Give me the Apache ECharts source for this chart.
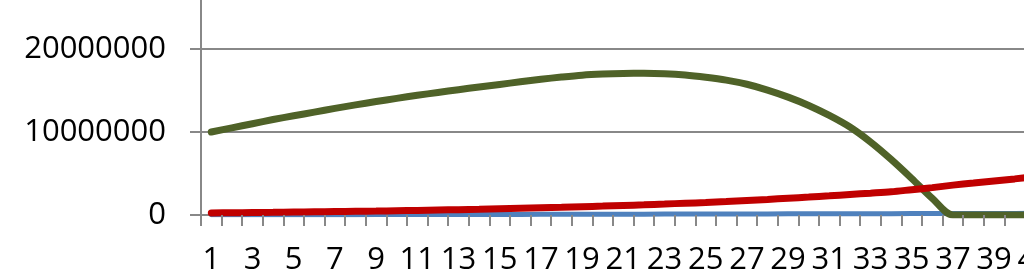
<!DOCTYPE html>
<html>
<head>
<meta charset="utf-8">
<script src="https://cdn.jsdelivr.net/npm/echarts@6/dist/echarts.min.js"></script>
<style>
  html, body { margin: 0; padding: 0; background: #fff; overflow: hidden; width: 1024px; height: 278px; }
  #wrap { position: absolute; left: 0; top: -34px; width: 1200px; height: 312px; }
  #chart { width: 1200px; height: 312px; }
</style>
</head>
<body>
<div id="wrap"><div id="chart"></div></div>
<script>
const categories = [];
for (let i = 1; i <= 44; i++) categories.push(String(i));

const blueValues = [
  20000, 23000, 26000, 29000, 32000, 35000, 38000, 42000, 46000, 50000,
  54000, 58000, 62000, 66000, 70000, 75000, 80000, 85000, 90000, 95000,
  100000, 105000, 110000, 115000, 120000, 125000, 130000, 135000, 140000, 145000,
  150000, 155000, 160000, 165000, 170000, 175000, 180000, 185000, 190000, 195000,
  200000, 205000, 210000, 215000
];

const greenValues = [
  10000000, 10500000, 11000000, 11500000, 11950000, 12400000, 12850000, 13270000, 13670000, 14050000,
  14420000, 14770000, 15100000, 15420000, 15730000, 16050000, 16350000, 16620000, 16850000, 16980000,
  17050000, 17070000, 17020000, 16870000, 16600000, 16250000, 15750000, 15050000, 14200000, 13200000,
  12000000, 10600000, 8800000, 6700000, 4400000, 2000000, 0, 0, 0, 0,
  0, 0, 0, 0
];

const redValues = [
  250000, 270000, 300000, 320000, 350000, 380000, 410000, 440000, 470000, 510000,
  550000, 600000, 640000, 690000, 750000, 810000, 870000, 930000, 1000000, 1070000,
  1150000, 1230000, 1320000, 1420000, 1500000, 1620000, 1750000, 1880000, 2020000, 2160000,
  2310000, 2470000, 2630000, 2800000, 3050000, 3300000, 3600000, 3850000, 4100000, 4350000,
  4620000, 4900000, 5200000, 5500000
];

const yMin = 0, yMax = 30000000, yInterval = 10000000;

const chart = echarts.init(document.getElementById('chart'), null, { renderer: 'canvas' });
const font = '"Open Sans", "Noto Sans", sans-serif';
const gray = '#888888';

chart.setOption({
  animation: false,
  backgroundColor: '#ffffff',
  grid: { left: 201, right: 92.6, top: 0, bottom: 63, containLabel: false, outerBoundsMode: 'none' },
  xAxis: {
    type: 'category',
    data: categories,
    boundaryGap: true,
    axisLine: { show: false },
    axisTick: { show: true, interval: 0, length: 11, lineStyle: { color: gray, width: 2 } },
    axisLabel: { interval: 1, margin: 30, color: '#000', fontSize: 31, fontFamily: font, hideOverlap: false },
    splitLine: { show: false },
    z: 3
  },
  yAxis: {
    type: 'value',
    min: yMin, max: yMax, interval: yInterval,
    axisLine: { show: true, lineStyle: { color: gray, width: 2 } },
    axisTick: { show: true, length: 11, lineStyle: { color: gray, width: 2 } },
    axisLabel: { margin: 35, color: '#000', fontSize: 31, fontFamily: font, formatter: function (v) { return String(v); } },
    splitLine: { show: true, lineStyle: { color: gray, width: 2 } }
  },
  series: [
    {
      type: 'line', data: blueValues, showSymbol: false, symbol: 'none',
      lineStyle: { color: '#4F81BD', width: 5, cap: 'round' }, itemStyle: { color: '#4F81BD' }, z: 2
    },
    {
      type: 'line', data: greenValues, showSymbol: false, symbol: 'none', smooth: 0.3,
      lineStyle: { color: '#4F6228', width: 7, cap: 'round', join: 'round' }, itemStyle: { color: '#4F6228' }, z: 2
    },
    {
      type: 'line', data: redValues, showSymbol: false, symbol: 'none', smooth: 0.3,
      lineStyle: { color: '#C00000', width: 7, cap: 'round' }, itemStyle: { color: '#C00000' }, z: 2
    }
  ]
});
</script>
</body>
</html>
